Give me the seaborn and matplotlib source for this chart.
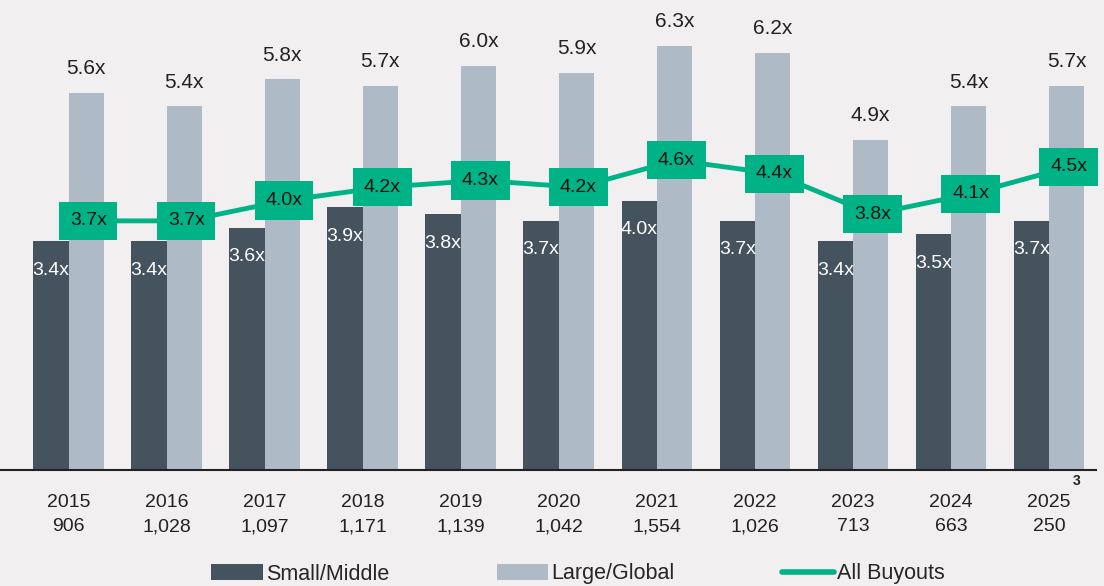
import matplotlib
matplotlib.use("Agg")
import matplotlib.pyplot as plt
import seaborn as sns
import pandas as pd
import numpy as np

years = ["2015", "2016", "2017", "2018", "2019", "2020", "2021", "2022", "2023", "2024", "2025"]
deal_counts = ["906", "1,028", "1,097", "1,171", "1,139", "1,042", "1,554", "1,026", "713", "663", "250"]
small_middle = [3.4, 3.4, 3.6, 3.9, 3.8, 3.7, 4.0, 3.7, 3.4, 3.5, 3.7]
large_global = [5.6, 5.4, 5.8, 5.7, 6.0, 5.9, 6.3, 6.2, 4.9, 5.4, 5.7]
all_buyouts = [3.7, 3.7, 4.0, 4.2, 4.3, 4.2, 4.6, 4.4, 3.8, 4.1, 4.5]

BG = "#f1eff0"
DARK = "#45535f"
LIGHT = "#aebac6"
GREEN = "#00b386"

sns.set_theme(style="white")
plt.rcParams["font.family"] = ["Liberation Sans", "DejaVu Sans"]

df = pd.DataFrame({"year": years * 2,
                   "value": small_middle + large_global,
                   "segment": ["Small/Middle"] * len(years) + ["Large/Global"] * len(years)})

fig = plt.figure(figsize=(11.04, 5.86), dpi=100, facecolor=BG)
ax = fig.add_axes([0, 1 - 470 / 586, 1096 / 1104, 470 / 586])
ax.set_facecolor(BG)

sns.barplot(data=df, x="year", y="value", hue="segment", palette=[DARK, LIGHT],
            width=0.72, gap=0, saturation=1, linewidth=0, ax=ax, legend=False)

x = np.arange(len(years))
bw = 0.36
line_x = x + 0.2
ax.plot(line_x, all_buyouts, color=GREEN, lw=3.5, zorder=3)

for i in range(len(years)):
    ax.text(x[i] - bw / 2, small_middle[i] - 0.43, f"{small_middle[i]:.1f}x", color="white",
            ha="center", va="center", fontsize=14, zorder=4)
    ax.text(x[i] + bw / 2, large_global[i] + 0.36, f"{large_global[i]:.1f}x", color="#222222",
            ha="center", va="center", fontsize=15, zorder=4)
    ax.text(line_x[i], all_buyouts[i], f"{all_buyouts[i]:.1f}x", color="#111111",
            ha="center", va="center", fontsize=14, zorder=5,
            bbox=dict(boxstyle="square,pad=0.55", fc=GREEN, ec="none"))

ax.set_ylim(0, 6.98)
ax.set_xlim(-0.70, 10.48)
ax.set_xticks(x)
ax.set_xticklabels([f"{y}\n{c}" for y, c in zip(years, deal_counts)], fontsize=14,
                   color="#222222", linespacing=1.6)
ax.tick_params(axis="x", length=0, pad=17)
ax.set_yticks([])
ax.set_xlabel("")
ax.set_ylabel("")
for s in ["top", "right", "left"]:
    ax.spines[s].set_visible(False)
ax.spines["bottom"].set_color("#222222")
ax.spines["bottom"].set_linewidth(1.5)

ax.text(10.28, -0.17, "3", fontsize=10, fontweight="bold", color="#222222",
        ha="center", va="center", clip_on=False)

handles = [plt.Rectangle((0, 0), 1, 1, fc=DARK, ec="none"),
           plt.Rectangle((0, 0), 1, 1, fc=LIGHT, ec="none"),
           plt.Line2D([0], [0], color=GREEN, lw=4, solid_capstyle="round")]
fig.legend(handles, ["Small/Middle", "Large/Global", "All Buyouts"], loc="center",
           bbox_to_anchor=(578 / 1104, 1 - 574 / 586), ncol=3, frameon=False,
           fontsize=15.5, handlelength=2.4, handleheight=0.7, handletextpad=0.15,
           columnspacing=5.0)

fig.savefig("out.png", dpi=100, facecolor=BG)
